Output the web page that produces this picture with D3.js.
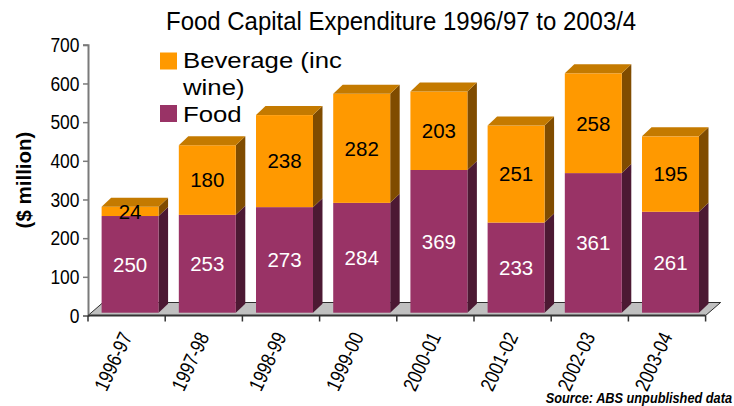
<!DOCTYPE html>
<html>
<head>
<meta charset="utf-8">
<script src="https://cdn.jsdelivr.net/npm/d3@7"></script>
<style>
  html, body { margin: 0; padding: 0; background: #fff; }
  svg { display: block; }
  .sans { font-family: "Liberation Sans", Arial, Helvetica, sans-serif; }
</style>
</head>
<body>
<svg id="chart" width="734" height="406"></svg>
<script>
// Food capital expenditure, $ million, by financial year
const years = ["1996-97", "1997-98", "1998-99", "1999-00", "2000-01", "2001-02", "2002-03", "2003-04"];
const food = [250, 253, 273, 284, 369, 233, 361, 261];
const beverage = [24, 180, 238, 282, 203, 251, 258, 195];
const yTicks = [0, 100, 200, 300, 400, 500, 600, 700];
const seriesNames = ["Beverage (inc", "wine)", "Food"];

const svg = d3.select("#chart");

// plot frame
const x0 = 88, x1 = 705.6, yBase = 315.5, yTop = 44.8;
const x = d3.scaleBand().domain(years).range([x0, x1]).padding(0);
const y = d3.scaleLinear().domain([0, 700]).range([yBase, yTop]);

// 3D geometry
const floorDx = 15, floorDy = -13;
const barOffX = 3.5, barOffY = -2.8;   // bar front sits slightly into the floor
const depthX = 9.5, depthY = -9;        // bar depth
const barW = x.bandwidth() * 0.738;

const col = {
  bevFront: "#FF9900", bevTop: "#C47A00", bevSide: "#804C00",
  foodFront: "#993366", foodTop: "#7A2952", foodSide: "#4C1933",
  floor: "#C0C0C0"
};

// title (condensed)
svg.append("text")
  .attr("class", "sans")
  .attr("transform", "translate(166,30) scale(0.94,1)")
  .attr("font-size", 25.5)
  .attr("fill", "#000")
  .text("Food Capital Expenditure 1996/97 to 2003/4");

// floor
svg.append("polygon")
  .attr("points", [[x0, yBase], [x1, yBase], [x1 + floorDx, yBase + floorDy], [x0 + floorDx, yBase + floorDy]].map(p => p.join(",")).join(" "))
  .attr("fill", col.floor)
  .attr("stroke", "#000")
  .attr("stroke-width", 0.8);

// y axis
const yAxis = d3.axisLeft(y).tickValues(yTicks).tickSize(5).tickPadding(3);
const gy = svg.append("g").attr("transform", `translate(${x0},0)`).call(yAxis);
gy.select(".domain").attr("stroke", "#7a7a7a").attr("stroke-width", 2);
gy.selectAll(".tick line").attr("stroke", "#7a7a7a").attr("stroke-width", 1.5);
gy.selectAll(".tick text")
  .attr("class", "sans")
  .attr("x", 0)
  .attr("transform", "translate(-8.5,0) scale(0.85,1)")
  .attr("font-size", 20.5)
  .attr("fill", "#000");

// y axis title
svg.append("text")
  .attr("class", "sans")
  .attr("transform", "translate(31,180) rotate(-90)")
  .attr("text-anchor", "middle")
  .attr("font-size", 20.5)
  .attr("font-weight", "bold")
  .text("($ million)");

// bars
const data = years.map((yr, i) => ({ yr, food: food[i], bev: beverage[i] }));

function box(g, xl, yTopPx, yBotPx, front, top, side, drawTop) {
  const xr = xl + barW;
  g.append("polygon")
    .attr("points", [[xr, yBotPx], [xr + depthX, yBotPx + depthY], [xr + depthX, yTopPx + depthY], [xr, yTopPx]].map(p => p.join(",")).join(" "))
    .attr("fill", side);
  g.append("rect")
    .attr("x", xl).attr("y", yTopPx)
    .attr("width", barW).attr("height", yBotPx - yTopPx)
    .attr("fill", front);
  if (drawTop) {
    g.append("polygon")
      .attr("points", [[xl, yTopPx], [xr, yTopPx], [xr + depthX, yTopPx + depthY], [xl + depthX, yTopPx + depthY]].map(p => p.join(",")).join(" "))
      .attr("fill", top);
  }
}

const bars = svg.append("g");
data.forEach(d => {
  const xl = x(d.yr) + (x.bandwidth() - barW) / 2 + barOffX;
  const g = bars.append("g");
  const yb = y(0) + barOffY;
  const yf = y(d.food) + barOffY;
  const yt = y(d.food + d.bev) + barOffY;
  box(g, xl, yf, yb, col.foodFront, col.foodTop, col.foodSide, false);
  box(g, xl, yt, yf, col.bevFront, col.bevTop, col.bevSide, true);
  const cx = xl + barW / 2;
  g.append("text")
    .attr("class", "sans")
    .attr("x", cx).attr("y", (yf + yb) / 2 + 7.3)
    .attr("text-anchor", "middle")
    .attr("font-size", 20.5)
    .attr("fill", "#fff")
    .text(d.food);
  g.append("text")
    .attr("class", "sans")
    .attr("x", cx).attr("y", (yt + yf) / 2 + 7.3)
    .attr("text-anchor", "middle")
    .attr("font-size", 20.5)
    .attr("fill", "#000")
    .text(d.bev);
});

// x axis line and boundary ticks
svg.append("line")
  .attr("x1", x0).attr("x2", x1)
  .attr("y1", yBase).attr("y2", yBase)
  .attr("stroke", "#333").attr("stroke-width", 2.2);
const bounds = years.map(d => x(d)).concat([x1]);
svg.append("g").selectAll("line").data(bounds).join("line")
  .attr("x1", d => d).attr("x2", d => d)
  .attr("y1", yBase).attr("y2", yBase + 6)
  .attr("stroke", "#333").attr("stroke-width", 1.5);

// category labels (rotated, condensed)
svg.append("g").selectAll("text").data(years).join("text")
  .attr("class", "sans")
  .attr("font-size", 20.5)
  .attr("text-anchor", "end")
  .attr("transform", d => `translate(${x(d) + x.bandwidth() / 2 + 6},${yBase + 21}) rotate(-65) scale(0.82,1)`)
  .text(d => d);

// legend
const legend = svg.append("g");
const legendItems = [
  { label: seriesNames[0], color: col.bevFront, sq: 52.5, base: 68 },
  { label: seriesNames[1], color: null, sq: 0, base: 95 },
  { label: seriesNames[2], color: col.foodFront, sq: 105, base: 121.7 }
];
legendItems.forEach(it => {
  if (it.color) {
    legend.append("rect")
      .attr("x", 160).attr("y", it.sq)
      .attr("width", 17).attr("height", 17)
      .attr("fill", it.color);
  }
  legend.append("text")
    .attr("class", "sans")
    .attr("transform", `translate(183,${it.base}) scale(1.12,1)`)
    .attr("font-size", 23)
    .attr("fill", "#000")
    .text(it.label);
});

// source note
svg.append("text")
  .attr("class", "sans")
  .attr("transform", "translate(732,403) scale(0.85,1)")
  .attr("text-anchor", "end")
  .attr("font-size", 15)
  .attr("font-weight", "bold")
  .attr("font-style", "italic")
  .text("Source: ABS unpublished data");
</script>
</body>
</html>
